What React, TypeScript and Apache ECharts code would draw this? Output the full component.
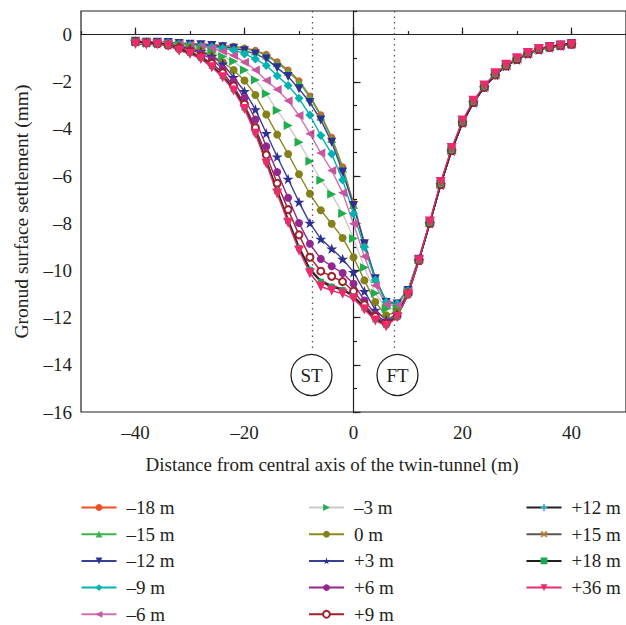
import React, { useEffect, useRef } from 'react';
import * as echarts from 'echarts';

const X_DIST = [-40,-38,-36,-34,-32,-30,-28,-26,-24,-22,-20,-18,-16,-14,-12,-10,-8,-6,-4,-2,0,2,4,6,8,10,12,14,16,18,20,22,24,26,28,30,32,34,36,38,40];

const M18 = [-0.28,-0.31,-0.32,-0.32,-0.36,-0.39,-0.40,-0.42,-0.46,-0.50,-0.57,-0.67,-0.84,-1.15,-1.50,-1.96,-2.60,-3.40,-4.35,-5.60,-7.15,-8.83,-10.32,-11.30,-11.38,-10.82,-9.48,-7.93,-6.30,-4.86,-3.69,-2.84,-2.19,-1.67,-1.30,-1.01,-0.78,-0.60,-0.51,-0.44,-0.38];
const M15 = [-0.28,-0.32,-0.32,-0.33,-0.37,-0.40,-0.41,-0.43,-0.48,-0.52,-0.59,-0.70,-0.87,-1.19,-1.55,-2.01,-2.65,-3.46,-4.40,-5.66,-7.20,-8.86,-10.34,-11.32,-11.40,-10.84,-9.50,-7.95,-6.32,-4.88,-3.70,-2.85,-2.20,-1.68,-1.30,-1.02,-0.78,-0.60,-0.50,-0.43,-0.37];
const M12 = [-0.28,-0.32,-0.33,-0.34,-0.38,-0.41,-0.43,-0.46,-0.52,-0.58,-0.68,-0.82,-1.03,-1.41,-1.78,-2.30,-2.88,-3.62,-4.56,-5.83,-7.25,-8.87,-10.35,-11.36,-11.42,-10.85,-9.52,-7.96,-6.33,-4.89,-3.71,-2.86,-2.21,-1.69,-1.31,-1.03,-0.79,-0.61,-0.51,-0.44,-0.38];
const M9 = [-0.28,-0.32,-0.33,-0.35,-0.40,-0.44,-0.48,-0.53,-0.58,-0.65,-0.82,-1.03,-1.31,-1.74,-2.16,-2.70,-3.41,-4.28,-5.06,-6.16,-7.60,-9.01,-10.40,-11.34,-11.41,-10.86,-9.53,-7.97,-6.34,-4.90,-3.72,-2.87,-2.22,-1.70,-1.32,-1.04,-0.80,-0.62,-0.52,-0.45,-0.39];
const M6 = [-0.28,-0.32,-0.34,-0.37,-0.41,-0.45,-0.50,-0.58,-0.71,-0.89,-1.17,-1.50,-1.95,-2.33,-2.80,-3.43,-4.20,-5.02,-5.76,-6.70,-8.02,-9.41,-10.64,-11.44,-11.50,-10.88,-9.54,-7.98,-6.35,-4.90,-3.72,-2.87,-2.22,-1.70,-1.32,-1.04,-0.80,-0.62,-0.53,-0.46,-0.40];
const M3 = [-0.28,-0.32,-0.35,-0.38,-0.43,-0.51,-0.61,-0.75,-0.93,-1.13,-1.50,-1.92,-2.51,-3.22,-3.85,-4.56,-5.37,-6.17,-6.77,-7.58,-8.64,-9.87,-10.97,-11.62,-11.62,-10.90,-9.55,-7.98,-6.35,-4.91,-3.73,-2.88,-2.23,-1.71,-1.33,-1.05,-0.81,-0.63,-0.53,-0.46,-0.40];
const Z0 = [-0.28,-0.32,-0.36,-0.40,-0.47,-0.55,-0.68,-0.88,-1.17,-1.50,-1.95,-2.56,-3.39,-4.24,-5.06,-5.92,-6.75,-7.45,-8.02,-8.62,-9.44,-10.42,-11.34,-11.90,-11.75,-10.92,-9.56,-7.99,-6.36,-4.92,-3.74,-2.88,-2.23,-1.71,-1.33,-1.05,-0.81,-0.63,-0.54,-0.47,-0.41];
const P3 = [-0.29,-0.33,-0.37,-0.42,-0.50,-0.60,-0.72,-0.92,-1.24,-1.81,-2.40,-3.17,-4.18,-5.18,-6.12,-7.10,-7.99,-8.66,-9.08,-9.51,-10.07,-10.88,-11.67,-12.10,-11.85,-10.95,-9.57,-8.00,-6.37,-4.93,-3.75,-2.89,-2.24,-1.72,-1.34,-1.06,-0.82,-0.64,-0.55,-0.47,-0.41];
const P6 = [-0.30,-0.34,-0.38,-0.44,-0.53,-0.65,-0.80,-1.05,-1.45,-1.98,-2.70,-3.60,-4.74,-5.83,-6.92,-7.99,-8.87,-9.51,-9.82,-10.11,-10.56,-11.27,-11.85,-12.20,-11.90,-10.97,-9.58,-8.00,-6.37,-4.93,-3.75,-2.89,-2.24,-1.72,-1.34,-1.06,-0.82,-0.64,-0.55,-0.48,-0.42];
const P9 = [-0.30,-0.35,-0.38,-0.45,-0.58,-0.72,-0.92,-1.22,-1.62,-2.18,-2.95,-3.95,-5.10,-6.30,-7.42,-8.49,-9.44,-10.03,-10.25,-10.47,-10.88,-11.45,-11.95,-12.25,-11.93,-11.00,-9.58,-8.00,-6.36,-4.92,-3.74,-2.88,-2.23,-1.71,-1.33,-1.05,-0.81,-0.63,-0.54,-0.47,-0.41];
const P12 = [-0.30,-0.36,-0.38,-0.45,-0.62,-0.77,-0.97,-1.30,-1.73,-2.28,-3.06,-4.10,-5.33,-6.58,-7.83,-8.98,-9.92,-10.42,-10.64,-10.78,-11.07,-11.55,-12.04,-12.30,-11.95,-11.02,-9.59,-8.01,-6.36,-4.92,-3.74,-2.88,-2.23,-1.71,-1.33,-1.05,-0.80,-0.62,-0.53,-0.46,-0.40];
const P15 = [-0.30,-0.36,-0.38,-0.45,-0.63,-0.78,-0.98,-1.32,-1.75,-2.30,-3.08,-4.12,-5.36,-6.62,-7.87,-9.02,-9.96,-10.46,-10.67,-10.81,-11.09,-11.57,-12.06,-12.31,-11.95,-11.02,-9.58,-8.00,-6.35,-4.91,-3.73,-2.87,-2.22,-1.70,-1.32,-1.04,-0.80,-0.62,-0.53,-0.46,-0.40];
const P18 = [-0.29,-0.35,-0.37,-0.44,-0.63,-0.78,-0.99,-1.33,-1.76,-2.31,-3.10,-4.14,-5.38,-6.64,-7.90,-9.05,-9.98,-10.48,-10.69,-10.83,-11.10,-11.58,-12.07,-12.32,-11.96,-11.02,-9.57,-7.98,-6.32,-4.88,-3.70,-2.85,-2.20,-1.68,-1.30,-1.02,-0.78,-0.60,-0.51,-0.43,-0.37];
const P36 = [-0.40,-0.42,-0.42,-0.47,-0.68,-0.82,-1.03,-1.38,-1.81,-2.37,-3.15,-4.20,-5.47,-6.74,-7.98,-9.15,-10.12,-10.68,-10.85,-10.99,-11.20,-11.65,-12.12,-12.36,-11.97,-11.03,-9.57,-7.92,-6.25,-4.81,-3.64,-2.80,-2.16,-1.64,-1.28,-1.00,-0.78,-0.61,-0.54,-0.47,-0.42];

const SERIES_NAMES = ['–18 m','–15 m','–12 m','–9 m','–6 m','–3 m','0 m','+3 m','+6 m','+9 m','+12 m','+15 m','+18 m','+36 m'];
const X_TICKS = [-40, -20, 0, 20, 40];
const Y_TICKS = [-16, -14, -12, -10, -8, -6, -4, -2, 0];
const TUNNEL_AXES = [-7.5, 7.5];
const TUNNEL_LABELS = ['ST', 'FT'];
const X_NAME = 'Distance from central axis of the twin-tunnel (m)';
const Y_NAME = 'Gronud surface settlement (mm)';

const STAR = 'path://M50,0 L61.8,35.1 L97.6,35.1 L68.8,57 L79.4,91.5 L50,70 L20.6,91.5 L31.2,57 L2.4,35.1 L38.2,35.1 Z';
const CROSS = 'path://M0,18 L18,0 L50,32 L82,0 L100,18 L68,50 L100,82 L82,100 L50,68 L18,100 L0,82 L32,50 Z';
const PLUS = 'path://M38,0 H62 V38 H100 V62 H62 V100 H38 V62 H0 V38 H38 Z';

const VALUES = [M18, M15, M12, M9, M6, M3, Z0, P3, P6, P9, P12, P15, P18, P36];
const LOOKS = [
  { line: '#f04e23', marker: '#f04e23', symbol: 'circle', size: 7, rotate: 0 },
  { line: '#39b54a', marker: '#39b54a', symbol: 'triangle', size: 9, rotate: 0 },
  { line: '#3b3d98', marker: '#2e3192', symbol: 'triangle', size: 9, rotate: 180 },
  { line: '#00b3b3', marker: '#00b3b3', symbol: 'diamond', size: 9, rotate: 0 },
  { line: '#d36fb0', marker: '#c9559f', symbol: 'triangle', size: 9, rotate: 90 },
  { line: '#cbcbcb', marker: '#1fae4b', symbol: 'triangle', size: 9, rotate: -90 },
  { line: '#8a8a22', marker: '#858018', symbol: 'circle', size: 8, rotate: 0 },
  { line: '#3b3d98', marker: '#2e3192', symbol: STAR, size: 11, rotate: 0 },
  { line: '#92278f', marker: '#92278f', symbol: 'circle', size: 8, rotate: 0 },
  { line: '#a3202a', marker: '#a3202a', symbol: 'emptyCircle', size: 7, rotate: 0 },
  { line: '#231f20', marker: '#27b5c9', symbol: PLUS, size: 5, rotate: 0 },
  { line: '#58595b', marker: '#c57b2e', symbol: CROSS, size: 5, rotate: 0 },
  { line: '#231f20', marker: '#1ea84e', symbol: 'rect', size: 6, rotate: 0 },
  { line: '#ec2a6c', marker: '#ec2a6c', symbol: 'triangle', size: 10, rotate: 180 },
];

const SERIF = '"Liberation Serif", "DejaVu Serif", serif';
const INK = '#231f20';
const fmt = (v: number) => (v < 0 ? '–' + Math.abs(v) : String(v));

export default function App() {
  const ref = useRef<HTMLDivElement>(null);
  useEffect(() => {
    if (!ref.current) return;
    const chart = echarts.init(ref.current, null, { renderer: 'svg' });
    const series: any[] = VALUES.map((vals, i) => {
      const lk = LOOKS[i];
      const s: any = {
        name: SERIES_NAMES[i],
        type: 'line',
        xAxisIndex: 0,
        yAxisIndex: 0,
        data: X_DIST.map((x, j) => [x, vals[j]]),
        symbol: lk.symbol,
        symbolSize: lk.size,
        symbolRotate: lk.rotate,
        symbolKeepAspect: true,
        showAllSymbol: true,
        lineStyle: { color: lk.line, width: 1.4 },
        itemStyle: { color: lk.marker, borderColor: lk.marker, borderWidth: lk.symbol === 'emptyCircle' ? 1.7 : 0 },
        emphasis: { disabled: true },
        animation: false,
      };
      if (i === 0) {
        s.markLine = {
          silent: true,
          symbol: ['none', 'none'],
          label: { show: false },
          lineStyle: { color: '#555', width: 1.3, type: [1.5, 4] },
          data: TUNNEL_AXES.map((x) => [{ coord: [x, 1] }, { coord: [x, -13.45] }]),
        };
      }
      return s;
    });
    const legendBase = {
      orient: 'vertical',
      itemWidth: 35,
      itemHeight: 8.5,
      itemGap: 7.7,
      padding: 0,
      height: 200,
      selectedMode: false,
      textStyle: { fontFamily: SERIF, fontSize: 19, lineHeight: 19, color: INK, padding: [0, 0, 0, 5] },
    };
    const axisLineStyle = { color: INK, width: 1.2 };
    chart.setOption({
      animation: false,
      backgroundColor: '#fff',
      grid: { left: 81, top: 11, width: 547, height: 401, show: true, borderColor: INK, borderWidth: 1.2, backgroundColor: 'transparent' },
      xAxis: [
        {
          type: 'value', min: -50, max: 50, interval: 10,
          axisLine: { show: true, lineStyle: axisLineStyle },
          axisTick: { show: true, inside: true, length: 3.5, lineStyle: axisLineStyle },
          axisLabel: { show: false },
          splitLine: { show: false },
        },
        {
          type: 'value', min: -50, max: 50, interval: 10, position: 'bottom', offset: 0,
          axisLine: { show: false },
          axisTick: { show: true, inside: true, length: 7, lineStyle: axisLineStyle, customValues: X_TICKS },
          axisLabel: { show: true, customValues: X_TICKS, formatter: fmt, fontFamily: SERIF, fontSize: 19, color: INK, margin: 11 },
          splitLine: { show: false },
        },
      ],
      yAxis: [
        {
          type: 'value', min: -16, max: 1, interval: 1,
          axisLine: { show: true, lineStyle: axisLineStyle },
          axisTick: { show: true, inside: true, length: 3.5, lineStyle: axisLineStyle },
          axisLabel: { show: false },
          splitLine: { show: false },
        },
        {
          type: 'value', min: -16, max: 1, interval: 1, position: 'left', offset: 0,
          axisLine: { show: false },
          axisTick: { show: true, inside: true, length: 7, lineStyle: axisLineStyle, customValues: Y_TICKS },
          axisLabel: { show: true, customValues: Y_TICKS, formatter: fmt, fontFamily: SERIF, fontSize: 19, color: INK, margin: 9 },
          splitLine: { show: false },
          name: Y_NAME,
          nameLocation: 'middle',
          nameGap: 50,
          nameTextStyle: { fontFamily: SERIF, fontSize: 19.5, color: INK },
        },
      ],
      legend: [
        { ...legendBase, left: 80.5, top: 498, data: SERIES_NAMES.slice(0, 5) },
        { ...legendBase, left: 308, top: 498, data: SERIES_NAMES.slice(5, 10) },
        { ...legendBase, left: 525.5, top: 498, data: SERIES_NAMES.slice(10, 14) },
      ],
      graphic: [
        ...TUNNEL_LABELS.flatMap((t, i) => {
          const cx = i === 0 ? 311.5 : 397.5;
          return [
            { type: 'circle', shape: { cx, cy: 375, r: 20.5 }, style: { fill: '#fff', stroke: INK, lineWidth: 1.3 }, silent: true },
            { type: 'text', x: cx, y: 375.5, style: { text: t, fontFamily: SERIF, fontSize: 19, fill: INK, align: 'center', verticalAlign: 'middle' }, silent: true },
          ];
        }),
        { type: 'text', x: 332, y: 464, style: { text: X_NAME, fontFamily: SERIF, fontSize: 19, fill: INK, align: 'center', verticalAlign: 'middle' }, silent: true },
      ],
      series,
    });
    return () => chart.dispose();
  }, []);
  return <div ref={ref} style={{ position: 'fixed', left: 0, top: 0, width: 626, height: 625, background: '#fff' }} />;
}
